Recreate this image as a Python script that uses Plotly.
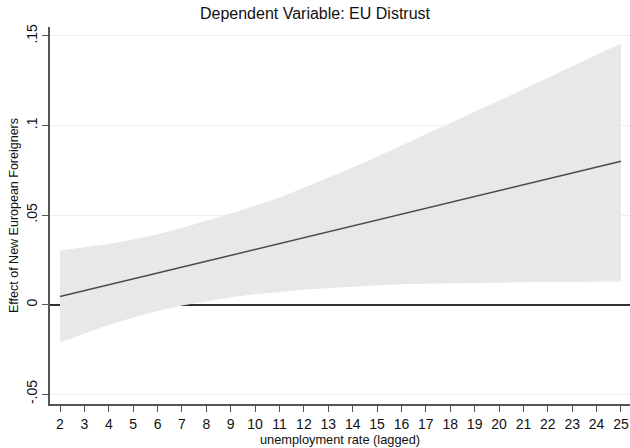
import plotly.graph_objects as go

unemployment = list(range(2, 26))
effect = [0.0045, 0.0078, 0.0111, 0.0143, 0.0176, 0.0209, 0.0242, 0.0275,
          0.0308, 0.0340, 0.0373, 0.0406, 0.0439, 0.0472, 0.0505, 0.0537,
          0.0570, 0.0603, 0.0636, 0.0669, 0.0702, 0.0734, 0.0767, 0.0800]
ci_upper = [0.0302, 0.0318, 0.0338, 0.0364, 0.0393, 0.0428, 0.0466, 0.0508,
            0.0552, 0.0598, 0.0652, 0.0708, 0.0766, 0.0826, 0.0888, 0.0950,
            0.1013, 0.1076, 0.1139, 0.1202, 0.1266, 0.1330, 0.1394, 0.1458]
ci_lower = [-0.0211, -0.0160, -0.0113, -0.0072, -0.0036, -0.0005, 0.0020, 0.0041,
            0.0058, 0.0072, 0.0083, 0.0093, 0.0101, 0.0108, 0.0113, 0.0117,
            0.0120, 0.0122, 0.0124, 0.0125, 0.0126, 0.0127, 0.0128, 0.0129]
y_tickvals = [-0.05, 0, 0.05, 0.1, 0.15]
y_ticktext = ["-.05", "0", ".05", ".1", ".15"]

FONT = "Liberation Sans, Arial, Helvetica, sans-serif"
TXT = "#111"

fig = go.Figure()
fig.add_trace(go.Scatter(x=unemployment, y=ci_upper, mode="lines",
                         line=dict(width=0, color="#e8e8e8"),
                         showlegend=False, hoverinfo="skip"))
fig.add_trace(go.Scatter(x=unemployment, y=ci_lower, mode="lines",
                         line=dict(width=0, color="#e8e8e8"),
                         fill="tonexty", fillcolor="#e8e8e8",
                         showlegend=False, hoverinfo="skip"))
fig.add_trace(go.Scatter(x=unemployment, y=effect, mode="lines",
                         line=dict(width=1.5, color="#4a4a4a"),
                         showlegend=False))

fig.update_layout(
    width=630, height=448,
    margin=dict(l=50, r=0, t=27, b=44),
    paper_bgcolor="white", plot_bgcolor="white",
    font=dict(family=FONT, color=TXT),
    title=dict(text="Dependent Variable: EU Distrust", x=0.5, xanchor="center",
               y=1 - 13 / 448, yanchor="middle",
               font=dict(size=16, family=FONT, color=TXT)),
    xaxis=dict(
        range=[1.59, 25.37], tickmode="array", tickvals=unemployment,
        ticktext=[str(v) for v in unemployment],
        showgrid=False, zeroline=False,
        showline=True, linecolor="#555", linewidth=1.5,
        ticks="outside", ticklen=6, tickcolor="#555", tickwidth=1.2,
        tickfont=dict(size=14, family=FONT, color=TXT),
        title=dict(text="unemployment rate (lagged)", standoff=3,
                   font=dict(size=12.8, family=FONT, color=TXT)),
    ),
    yaxis=dict(
        range=[-0.0555, 0.155], tickmode="array", tickvals=y_tickvals,
        ticktext=y_ticktext, tickangle=-90,
        showgrid=True, gridcolor="#efefef", gridwidth=1,
        zeroline=True, zerolinecolor="#333", zerolinewidth=1.6,
        showline=True, linecolor="#555", linewidth=1.5,
        ticks="outside", ticklen=6, tickcolor="#555", tickwidth=1.2,
        tickfont=dict(size=14, family=FONT, color=TXT),
        title=dict(text="Effect of New European Foreigners", standoff=2,
                   font=dict(size=12.5, family=FONT, color=TXT)),
    ),
)

fig.write_html("out.html")
